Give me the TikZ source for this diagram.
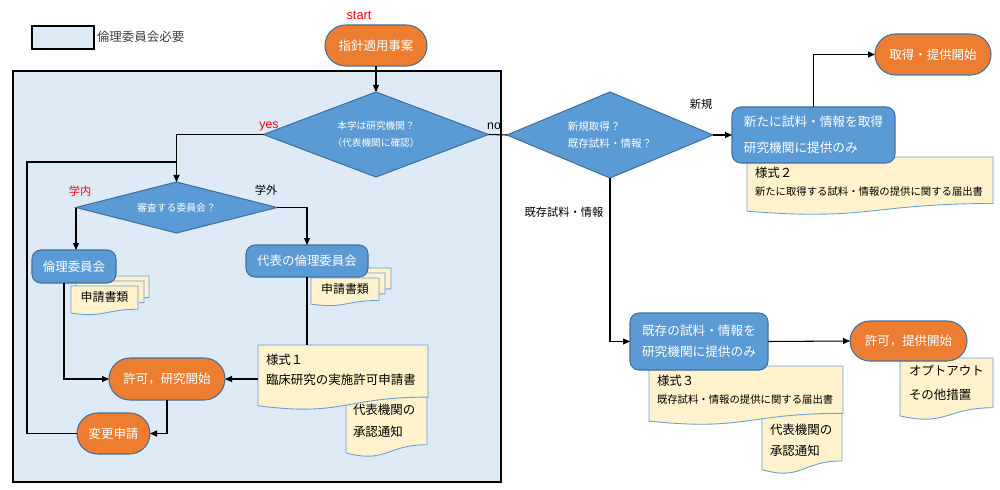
\documentclass[tikz,border=0pt]{standalone}
\usepackage{fontspec}
\setmainfont{Noto Sans CJK JP}
\newfontfamily\latf{Liberation Sans}
\usetikzlibrary{arrows.meta,calc,fit,shapes.geometric}
\definecolor{orf}{HTML}{ED7D31}
\definecolor{bluef}{HTML}{5B9BD5}
\definecolor{blued}{HTML}{41719C}
\definecolor{bgc}{HTML}{DEEBF7}
\definecolor{docf}{HTML}{FFF2CC}
\definecolor{docd}{HTML}{6A9FD4}
\definecolor{redl}{HTML}{FF0000}
\newcommand\fs[2]{\fontsize{#1pt}{#2pt}\selectfont}
\newcommand\docshape[4]{\filldraw[docst] (#1,#2) -- (#3,#2) -- (#3,{#2+0.802*(#4-#2)}) .. controls ({(#1+#3)/2},{#2+0.802*(#4-#2)}) and ({(#1+#3)/2},{#2+1.107*(#4-#2)}) .. (#1,{#2+0.934*(#4-#2)}) -- cycle;}
\begin{document}
\begin{tikzpicture}[x=0.2mm,y=-0.2mm,
  every node/.style={inner sep=0pt, outer sep=0pt},
  ln/.style={line width=0.6pt, draw=black},
  arr/.style={ln, -{Triangle[length=1.4mm,width=1.2mm]}},
  term/.style={draw=blued, line width=0.6pt, fill=orf, text=white, font=\fs{7.1}{9}},
  box/.style={draw=blued, line width=0.6pt, fill=bluef, text=white, rounded corners=1.8mm, align=left},
  dia/.style={diamond, draw=blued, line width=0.6pt, fill=bluef, text=white},
  docst/.style={draw=docd, line width=0.5pt, fill=docf},
  dtxt/.style={anchor=west, align=left, text=black},
  lbl/.style={text=black, font=\fs{6.4}{8}},
  ]
\path[use as bounding box] (0,0) rectangle (1000,490);

% legend
\node[draw=black, line width=1.1pt, fill=bgc, minimum width=12.4mm, minimum height=4.6mm] (leg) at (63,37.5) {};
\node[anchor=west, text=black!75, font=\fs{7.1}{9}] (legt) at (97,37) {倫理委員会必要};

% region requiring ethics committee
\filldraw[draw=black, line width=1pt, fill=bgc] (13,71) rectangle (501,482);

% start
\node[text=redl, font=\latf\fs{7.3}{9}] (stl) at (359,15) {start};
\node[term, minimum width=20.4mm, minimum height=8.2mm, rounded corners=4.1mm] (st) at (376,45.5) {指針適用事案};

% diamonds
\node[dia, aspect=2.65, minimum width=45mm, minimum height=17mm, align=center, font=\fs{5.5}{9.7}] (d1) at (376,134.5) {本学は研究機関？\\（代表機関に確認）};
\node[dia, aspect=3.9, minimum width=40.2mm, minimum height=10.2mm, font=\fs{5.6}{8}] (d2) at (176.5,207.5) {審査する委員会？};
\node[dia, aspect=2.4, minimum width=41.2mm, minimum height=17.2mm, align=left, font=\fs{6}{10.2}] (d3) at (610,135) {新規取得？\\既存試料・情報？};

% labels
\node[text=redl, font=\latf\fs{7}{9}] (yes) at (269,126) {yes};
\node[font=\latf\fs{7}{9}] (no) at (494,126) {no};
\node[lbl, text=redl] (gn) at (80,191) {学内};
\node[lbl] (gg) at (266,190) {学外};
\node[lbl] (sk) at (701,104) {新規};
\node[lbl] (ks) at (564,212) {既存試料・情報};

% stacks of application papers
\docshape{81}{276}{149}{303}
\docshape{76}{281}{144}{308}
\docshape{71}{286}{138}{315}
\node[text=black, font=\fs{6.8}{8}] (ap1) at (104.5,297) {申請書類};
\docshape{323}{268}{391}{294}
\docshape{317}{273}{385}{299}
\docshape{311}{278}{379}{306}
\node[text=black, font=\fs{6.8}{8}] (ap2) at (345,289) {申請書類};

% committee boxes
\node[box, minimum width=16.8mm, minimum height=6.6mm, font=\fs{7.1}{9}] (rinri) at (74,266.5) {倫理委員会};
\node[box, minimum width=24.4mm, minimum height=6.4mm, font=\fs{7.1}{9}] (daihyo) at (307,261) {代表の倫理委員会};

% form 1 and approval notice
\docshape{346}{395}{427}{457}
\node[dtxt, font=\fs{7.1}{12.5}] (ap3) at (353,421) {代表機関の\\承認通知};
\docshape{258}{345}{428}{410}
\node[fit={(258,345)(428,410)}] (s1) {};
\node[dtxt, font=\fs{7.1}{11.4}] (s1t) at (266,370) {様式１\\臨床研究の実施許可申請書};

% terminals left
\node[term, minimum width=23.2mm, minimum height=8.4mm, rounded corners=4.2mm] (kk) at (167,379) {許可，研究開始};
\node[term, minimum width=14.6mm, minimum height=8.2mm, rounded corners=4.1mm] (hk) at (113.5,433.5) {変更申請};

% right: new acquisition
\docshape{747}{157}{993}{215}
\node[dtxt, font=\fs{7.1}{9}] (s2a) at (755,173) {様式２};
\node[dtxt, font=\fs{5.9}{8}] (s2b) at (755,192) {新たに取得する試料・情報の提供に関する届出書};
\node[box, minimum width=32.6mm, minimum height=11.2mm, font=\fs{7.2}{14.8}] (newbox) at (813.5,135) {新たに試料・情報を取得\\研究機関に提供のみ};
\node[term, minimum width=23.2mm, minimum height=8.2mm, rounded corners=4.1mm] (shu) at (933,54.5) {取得・提供開始};

% right: existing
\docshape{762}{408}{842}{474}
\node[dtxt, font=\fs{7.1}{12}] (ap4) at (770,440) {代表機関の\\承認通知};
\docshape{649}{366}{843}{425}
\node[dtxt, font=\fs{7.1}{9}] (s3a) at (657,381) {様式３};
\node[dtxt, font=\fs{5.9}{8}] (s3b) at (657,400) {既存試料・情報の提供に関する届出書};
\node[box, minimum width=27.6mm, minimum height=11.4mm, font=\fs{7.2}{12}] (kizon) at (699,341.5) {既存の試料・情報を\\研究機関に提供のみ};
\docshape{900}{358}{993}{420}
\node[dtxt, font=\fs{7.1}{13.6}] (opt) at (909,383) {オプトアウト\\その他措置};
\node[term, minimum width=23.4mm, minimum height=8mm, rounded corners=4mm] (kk2) at (908.5,341) {許可，提供開始};

% connectors
\coordinate (j) at (176.5,162);
\draw[arr] (st.south) -- (d1.north);
\draw[arr] (d1.west) -| (d2.north);
\draw[arr] (d2.west) -- (d2.west |- rinri.north);
\draw[arr] (d2.east) -| (daihyo.north);
\draw[arr] ($(rinri.south)+(-10,0)$) |- (kk.west);
\draw[ln] (daihyo.south) -- (daihyo.south |- s1.north);
\draw[arr] (s1.west |- kk.east) -- (kk.east);
\draw[arr] (kk.south) |- (hk.east);
\draw[ln] (hk.west) -- ++(-50,0) |- (j);
\draw[ln] (d1.east) -- (d3.west);
\draw[arr] (d3.east) -- (newbox.west);
\draw[arr] (newbox.north) |- (shu.west);
\draw[arr] (d3.south) |- (kizon.west);
\draw[arr] (kizon.east) -- (kk2.west);
\end{tikzpicture}
\end{document}
